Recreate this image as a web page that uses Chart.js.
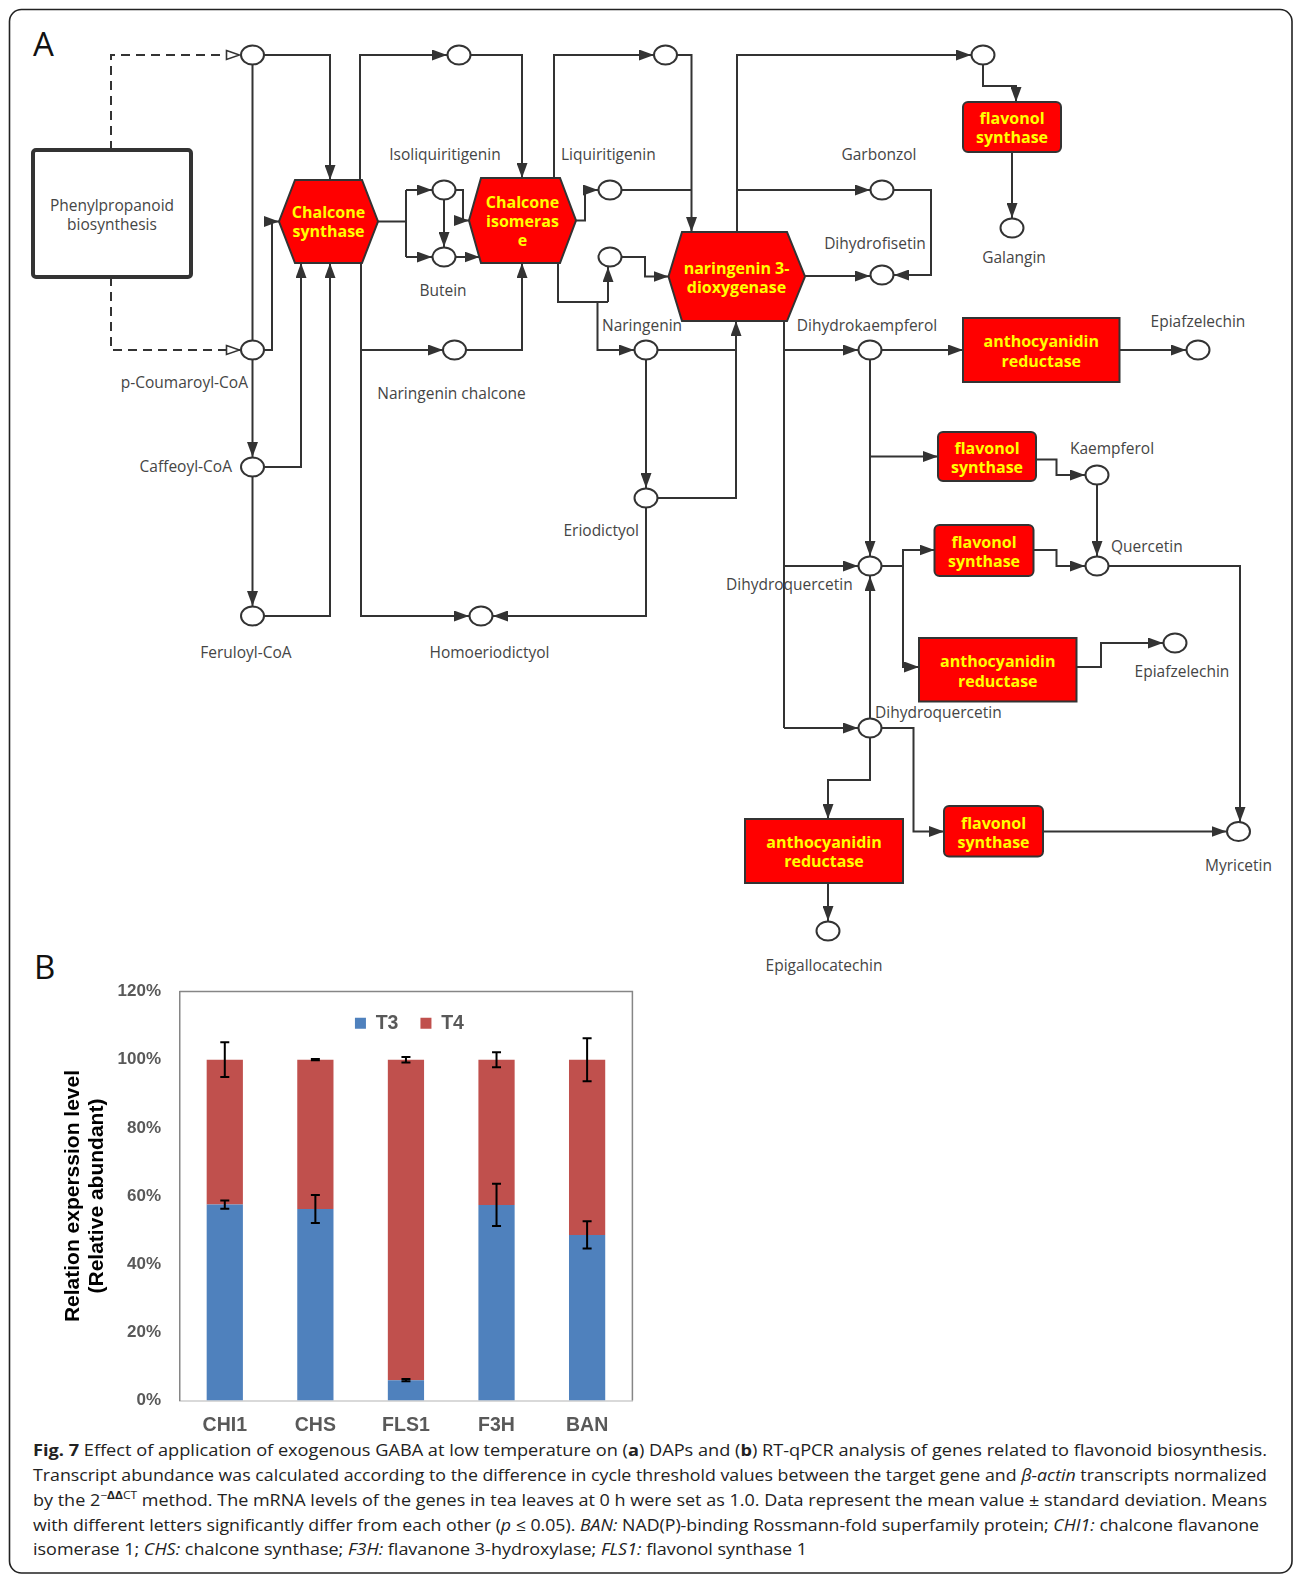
<!DOCTYPE html>
<html>
<head>
<meta charset="utf-8">
<script src="https://cdn.jsdelivr.net/npm/chart.js@4.4.1/dist/chart.umd.min.js"></script>
<style>
  html, body { margin: 0; padding: 0; background: #fff; }
  body { width: 1295px; height: 1581px; position: relative; overflow: hidden; }
  #diagram { position: absolute; left: 0; top: 0; }
  #chartBox { position: absolute; left: 40px; top: 960px; width: 640px; height: 490px; }
</style>
</head>
<body>
<svg id="diagram" width="1295" height="1581" viewBox="0 0 1295 1581" xmlns="http://www.w3.org/2000/svg">
  <defs>
    <marker id="ar" markerWidth="15" markerHeight="11" refX="15" refY="5.5" orient="auto" markerUnits="userSpaceOnUse">
      <path d="M0,0 L15,5.5 L0,11 Z" fill="#333"/>
    </marker>
    <marker id="oar" markerWidth="16" markerHeight="12" refX="15" refY="6" orient="auto" markerUnits="userSpaceOnUse">
      <path d="M1.5,1.5 L14.5,6 L1.5,10.5 Z" fill="#fff" stroke="#333" stroke-width="1.6"/>
    </marker>
  </defs>
</svg>
<div id="chartBox"><canvas id="chart" width="640" height="490"></canvas></div>
<script>
// ---------------- Chart data (panel B) ----------------
const categories = ['CHI1', 'CHS', 'FLS1', 'F3H', 'BAN'];
const seriesNames = ['T3', 'T4'];
const t3Values = [57.5, 56.2, 6.0, 57.4, 48.6];
const t4Values = [42.5, 43.8, 94.0, 42.6, 51.4];
const t3Errors = [1.2, 4.1, 0.3, 6.2, 4.0];
const t4Errors = [5.1, 0.2, 0.8, 2.2, 6.3];
const yTickValues = [0, 20, 40, 60, 80, 100, 120];
const yTitleLines = ['Relation experssion level', '(Relative abundant)'];

// ---------------- Panel A diagram (static figure) ----------------
const NS = 'http://www.w3.org/2000/svg';
const svg = document.getElementById('diagram');
function el(tag, attrs, text) {
  const e = document.createElementNS(NS, tag);
  for (const k in attrs) e.setAttribute(k, attrs[k]);
  if (text != null) e.textContent = text;
  svg.appendChild(e);
  return e;
}

// outer frame
el('rect', {x: 9.5, y: 9.5, width: 1282.5, height: 1563.5, rx: 12, ry: 12, fill: 'none', stroke: '#222', 'stroke-width': 1.6});
el('text', {x: 33, y: 56, 'font-family': 'Open Sans', 'font-size': 33, fill: '#111'}, 'A');
el('text', {x: 34, y: 979, 'font-family': 'Open Sans', 'font-size': 33, fill: '#111'}, 'B');

// phenylpropanoid box
el('rect', {x: 33, y: 150, width: 158, height: 127, rx: 3, fill: '#fff', stroke: '#333', 'stroke-width': 4});

const hexes = [
  {pts: '279,221.5 295,180 362,180 378,221.5 362,263 295,263', cx: 328.5, lines: ['Chalcone', 'synthase'], ys: [212, 231]},
  {pts: '469,220.5 481,178 560,178 576,220.5 560,263 481,263', cx: 522.5, lines: ['Chalcone', 'isomeras', 'e'], ys: [202, 221, 240]},
  {pts: '668.5,276.5 682,232 787,232 805,276.5 787,321 682,321', cx: 736.5, lines: ['naringenin 3-', 'dioxygenase'], ys: [268, 287]}
];
const boxes = [
  {x: 963, y: 102, w: 98, h: 50, r: 5, lines: ['flavonol', 'synthase'], ys: [118, 137]},
  {x: 963, y: 318, w: 156.5, h: 64, r: 0, lines: ['anthocyanidin', 'reductase'], ys: [341, 361]},
  {x: 938, y: 432, w: 98, h: 49, r: 5, lines: ['flavonol', 'synthase'], ys: [448, 467]},
  {x: 934.5, y: 525, w: 99, h: 51, r: 5, lines: ['flavonol', 'synthase'], ys: [542, 561]},
  {x: 919, y: 638, w: 157.5, h: 63.5, r: 0, lines: ['anthocyanidin', 'reductase'], ys: [661, 681]},
  {x: 944, y: 806, w: 99, h: 50.5, r: 5, lines: ['flavonol', 'synthase'], ys: [823, 842]},
  {x: 745, y: 819, w: 158, h: 64, r: 0, lines: ['anthocyanidin', 'reductase'], ys: [842, 861]}
];

const links = [
  ['M111,150 V55 H240', 'dash'],
  ['M111,277 V350 H240', 'dash'],
  ['M252.5,65 V340', ''],
  ['M264,55 H330 V180', 'a'],
  ['M264,350 H272 V221.5 H279', 'a'],
  ['M264,467 H301 V263', 'a'],
  ['M264,616 H330 V263', 'a'],
  ['M252.5,360 V457', 'a'],
  ['M252.5,477 V606', 'a'],
  ['M360,180 V55 H447', 'a'],
  ['M471,55 H522 V178', 'a'],
  ['M378,221.5 H406', ''],
  ['M406,190 V257', ''],
  ['M406,190 H432', 'a'],
  ['M406,257 H432', 'a'],
  ['M444,199.5 V247', 'a'],
  ['M456,190 H463 V220.5 H469', 'a'],
  ['M456,257 H479.5', 'a'],
  ['M361,263 V616 H469', 'a'],
  ['M361,350 H443', 'a'],
  ['M466,350 H522 V263', 'a'],
  ['M554,178 V55 H654', 'a'],
  ['M677,55 H691.5 V232', 'a'],
  ['M576,220.5 H585 V190 H598', 'a'],
  ['M622,190 H691.5', ''],
  ['M558,263 V302 H608', ''],
  ['M608,302 V267', 'a'],
  ['M597.5,302 V350 H634', 'a'],
  ['M622,257 H645 V276.5 H668.5', 'a'],
  ['M737,232 V55 H971', 'a'],
  ['M737,190 H870', 'a'],
  ['M894,190 H931 V275 H894', 'a'],
  ['M805,276 H870', 'a'],
  ['M983,65 V86 H1016 V102', 'a'],
  ['M1012,152 V218', 'a'],
  ['M658,350 H736', ''],
  ['M658,498 H736 V321', 'a'],
  ['M646,360 V488', 'a'],
  ['M646,508 V616 H493', 'a'],
  ['M784,321 V728', ''],
  ['M784,350 H858', 'a'],
  ['M784,566 H858', 'a'],
  ['M784,728 H858', 'a'],
  ['M882,350 H963', 'a'],
  ['M1119.5,350 H1186', 'a'],
  ['M870,360 V556', 'a'],
  ['M870,456.5 H938', 'a'],
  ['M1036,459.5 H1056.5 V475 H1085', 'a'],
  ['M1097,485 V556', 'a'],
  ['M882,566 H903 V550 H934.5', 'a'],
  ['M903,566 V667 H919', 'a'],
  ['M1033.5,550 H1056.5 V566 H1085', 'a'],
  ['M1076.5,667 H1101 V643 H1163', 'a'],
  ['M1109,566 H1240 V822', 'a'],
  ['M870,718 V576', 'a'],
  ['M882,728 H913.5 V831.5 H944', 'a'],
  ['M1043,831.5 H1226.5', 'a'],
  ['M870,738 V780 H828 V819', 'a'],
  ['M828,883 V921', 'a']
];

const nodes = [
  [252.5, 55], [252.5, 350], [252.5, 467], [252.5, 616],
  [459, 55], [444, 190], [444, 257], [454.5, 350], [481, 616],
  [665.5, 55], [610, 190], [610, 257], [646, 350], [646, 498],
  [983, 55], [882, 190], [882, 275], [1012, 228],
  [870, 350], [1198, 350], [1097, 475], [870, 566], [1097, 566],
  [1175, 643], [870, 728], [1238.5, 831.5], [828, 931]
];

const labels = [
  ['Phenylpropanoid', 112, 205, 'middle'],
  ['biosynthesis', 112, 224, 'middle'],
  ['p-Coumaroyl-CoA', 248, 382, 'end'],
  ['Caffeoyl-CoA', 232, 466, 'end'],
  ['Feruloyl-CoA', 246, 652, 'middle'],
  ['Isoliquiritigenin', 445, 154, 'middle'],
  ['Butein', 443, 290, 'middle'],
  ['Liquiritigenin', 561, 154, 'start'],
  ['Naringenin chalcone', 451.5, 393, 'middle'],
  ['Homoeriodictyol', 489.5, 652, 'middle'],
  ['Naringenin', 602, 325, 'start'],
  ['Eriodictyol', 639, 530, 'end'],
  ['Garbonzol', 879, 154, 'middle'],
  ['Dihydrofisetin', 875, 243, 'middle'],
  ['Galangin', 1014, 257, 'middle'],
  ['Dihydrokaempferol', 867, 325, 'middle'],
  ['Epiafzelechin', 1198, 321, 'middle'],
  ['Kaempferol', 1112, 448, 'middle'],
  ['Quercetin', 1111, 546, 'start'],
  ['Dihydroquercetin', 726, 584, 'start'],
  ['Epiafzelechin', 1182, 671, 'middle'],
  ['Dihydroquercetin', 875, 712, 'start'],
  ['Myricetin', 1238.5, 865, 'middle'],
  ['Epigallocatechin', 824, 965, 'middle']
];

hexes.forEach(h => {
  el('polygon', {points: h.pts, fill: '#ff0000', stroke: '#333', 'stroke-width': 2});
});
boxes.forEach(b => {
  el('rect', {x: b.x, y: b.y, width: b.w, height: b.h, rx: b.r, ry: b.r, fill: '#ff0000', stroke: '#333', 'stroke-width': 2});
});
links.forEach(([d, kind]) => {
  const a = {d: d, fill: 'none', stroke: '#333', 'stroke-width': 2};
  if (kind === 'a') a['marker-end'] = 'url(#ar)';
  if (kind === 'dash') { a['stroke-dasharray'] = '9,6'; a['marker-end'] = 'url(#oar)'; }
  el('path', a);
});
nodes.forEach(([cx, cy]) => {
  el('ellipse', {cx: cx, cy: cy, rx: 11.5, ry: 9.5, fill: '#fff', stroke: '#333', 'stroke-width': 2});
});
labels.forEach(([t, x, y, anc]) => {
  el('text', {x: x, y: y, 'text-anchor': anc, 'dominant-baseline': 'central', 'font-family': 'Open Sans', 'font-size': 15.5, fill: '#454545'}, t);
});
function enzymeText(cx, lines, ys) {
  lines.forEach((t, i) => {
    el('text', {x: cx, y: ys[i], 'text-anchor': 'middle', 'dominant-baseline': 'central', 'font-family': 'Open Sans', 'font-weight': 'bold', 'font-size': 16, fill: '#ffff00'}, t);
  });
}
hexes.forEach(h => enzymeText(h.cx, h.lines, h.ys));
boxes.forEach(b => enzymeText(b.x + b.w / 2, b.lines, b.ys));

// caption
const captionLines = [
  {y: 1456, len: 1234, html: '<tspan font-weight="bold">Fig. 7</tspan> Effect of application of exogenous GABA at low temperature on (<tspan font-weight="bold">a</tspan>) DAPs and (<tspan font-weight="bold">b</tspan>) RT-qPCR analysis of genes related to flavonoid biosynthesis.'},
  {y: 1481, len: 1234, html: 'Transcript abundance was calculated according to the difference in cycle threshold values between the target gene and <tspan font-style="italic">β-actin</tspan> transcripts normalized'},
  {y: 1506, len: 1234, html: 'by the 2<tspan font-size="11" dy="-7">−<tspan font-weight="bold">ΔΔ</tspan>CT</tspan><tspan dy="7"> method. The mRNA levels of the genes in tea leaves at 0 h were set as 1.0. Data represent the mean value ± standard deviation. Means</tspan>'},
  {y: 1530.5, len: 1226, html: 'with different letters significantly differ from each other (<tspan font-style="italic">p</tspan> ≤ 0.05). <tspan font-style="italic">BAN:</tspan> NAD(P)-binding Rossmann-fold superfamily protein; <tspan font-style="italic">CHI1:</tspan> chalcone flavanone'},
  {y: 1555, len: 774, html: 'isomerase 1; <tspan font-style="italic">CHS:</tspan> chalcone synthase; <tspan font-style="italic">F3H:</tspan> flavanone 3-hydroxylase; <tspan font-style="italic">FLS1:</tspan> flavonol synthase 1'}
];
captionLines.forEach(c => {
  const t = el('text', {x: 33, y: c.y, 'font-family': 'Open Sans', 'font-size': 16.5, fill: '#222', textLength: c.len, lengthAdjust: 'spacingAndGlyphs'});
  t.innerHTML = c.html;
});

// ---------------- Chart (panel B) ----------------
Chart.defaults.font.family = 'Liberation Sans';

const frameLines = {
  id: 'frameLines',
  afterDatasetsDraw(chart) {
    const {ctx, chartArea: a} = chart;
    ctx.save();
    ctx.strokeStyle = '#868686';
    ctx.lineWidth = 1.5;
    ctx.beginPath();
    ctx.moveTo(a.left, a.top);
    ctx.lineTo(a.right, a.top);
    ctx.lineTo(a.right, a.bottom);
    ctx.stroke();
    ctx.restore();
  }
};

// place the (zero-height) top legend inside the plot area
const legendInside = {
  id: 'legendInside',
  afterLayout(chart) {
    const lg = chart.legend;
    const a = chart.chartArea;
    if (!lg) return;
    lg.left = a.left + 7;
    lg.right = a.right;
    lg.width = lg.right - lg.left;
    lg.top = a.top;
    lg.height = 70;
    lg.bottom = a.top + 70;
  }
};

const errorBars = {
  id: 'errorBars',
  afterDatasetsDraw(chart) {
    const {ctx} = chart;
    const yScale = chart.scales.y;
    const groups = [
      {idx: 0, errs: t3Errors, top: i => t3Values[i]},
      {idx: 1, errs: t4Errors, top: i => t3Values[i] + t4Values[i]}
    ];
    ctx.save();
    ctx.strokeStyle = '#000';
    ctx.lineWidth = 2;
    groups.forEach(g => {
      const meta = chart.getDatasetMeta(g.idx);
      meta.data.forEach((bar, i) => {
        const v = g.top(i);
        const yHi = yScale.getPixelForValue(v + g.errs[i]);
        const yLo = yScale.getPixelForValue(v - g.errs[i]);
        const x = bar.x;
        const cap = 4.5;
        ctx.beginPath();
        ctx.moveTo(x, yHi); ctx.lineTo(x, yLo);
        ctx.moveTo(x - cap, yHi); ctx.lineTo(x + cap, yHi);
        ctx.moveTo(x - cap, yLo); ctx.lineTo(x + cap, yLo);
        ctx.stroke();
      });
    });
    ctx.restore();
  }
};

new Chart(document.getElementById('chart'), {
  type: 'bar',
  data: {
    labels: categories,
    datasets: [
      {label: seriesNames[0], data: t3Values, backgroundColor: '#4F81BD', barPercentage: 0.4, categoryPercentage: 1},
      {label: seriesNames[1], data: t4Values, backgroundColor: '#C0504D', barPercentage: 0.4, categoryPercentage: 1}
    ]
  },
  options: {
    responsive: false,
    animation: false,
    layout: {padding: {left: 0, top: 31, right: 47.6, bottom: 0}},
    plugins: {
      legend: {
        position: 'top',
        align: 'center',
        maxHeight: 0.5,
        labels: {
          boxWidth: 11, boxHeight: 11, padding: 22, color: '#595959',
          font: {family: 'Liberation Sans', size: 19.5, weight: 'bold'}
        }
      },
      tooltip: {enabled: false}
    },
    scales: {
      x: {
        stacked: true,
        grid: {display: false, drawTicks: false},
        border: {display: true, color: '#d9d9d9', width: 2},
        ticks: {color: '#595959', padding: 13.6, font: {size: 19.5, weight: 'bold'}},
        afterFit(s) { s.height = 49.4; }
      },
      y: {
        stacked: true,
        min: 0, max: 120,
        afterBuildTicks(s) { s.ticks = yTickValues.map(v => ({value: v})); },
        grid: {display: false, drawTicks: false},
        border: {display: true, color: '#868686', width: 1.5},
        ticks: {color: '#595959', padding: 18.5, font: {size: 17, weight: 'bold'}, callback: v => v + '%'},
        title: {
          display: true, text: yTitleLines, color: '#000',
          font: {size: 21, weight: 'bold', lineHeight: 1.17},
          padding: {top: 20.7, bottom: 0}
        },
        afterFit(s) { s.width = 139.5; }
      }
    }
  },
  plugins: [frameLines, legendInside, errorBars]
});
</script>
</body>
</html>
